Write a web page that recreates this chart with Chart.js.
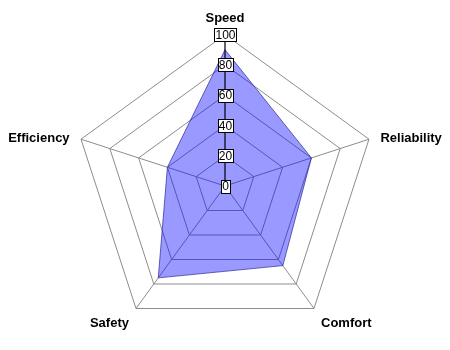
<!DOCTYPE html>
<html>
<head>
<meta charset="utf-8">
<script src="https://cdn.jsdelivr.net/npm/chart.js@4"></script>
<style>
    body { margin: 0; background: #ffffff; }
</style>
</head>
<body>
<canvas id="myChart" width="450" height="350"></canvas>
<script>
const categories = ["Speed", "Reliability", "Comfort", "Safety", "Efficiency"];
const values = [90, 60, 65, 75, 40];
const tickValues = [0, 20, 40, 60, 80, 100];

const labelFont = "bold 13px 'Liberation Sans', Arial, sans-serif";

// boxed tick labels along the first axis, drawn over the fill,
// and the category labels placed round the outer ring
const radarExtras = {
    id: "radarExtras",
    afterDatasetsDraw(chart) {
        const scale = chart.scales.r;
        const ctx = chart.ctx;
        const top = scale.getPointPositionForValue(0, tickValues[tickValues.length - 1]);
        ctx.save();
        ctx.strokeStyle = "black";
        ctx.lineWidth = 1;
        ctx.beginPath();
        ctx.moveTo(scale.xCenter, scale.yCenter);
        ctx.lineTo(top.x, top.y);
        ctx.stroke();

        ctx.font = "12px 'Liberation Sans', Arial, sans-serif";
        ctx.textAlign = "center";
        ctx.textBaseline = "middle";
        tickValues.forEach(v => {
            const p = scale.getPointPositionForValue(0, v);
            const w = Math.round(ctx.measureText(String(v)).width + 2);
            const h = 13;
            const x = Math.round(p.x - w / 2) + 0.5;
            const y = Math.round(p.y - h / 2) + 0.5;
            ctx.fillStyle = "white";
            ctx.fillRect(x, y, w, h);
            ctx.strokeRect(x, y, w, h);
            ctx.fillStyle = "black";
            ctx.fillText(String(v), p.x + 0.5, p.y + 1);
        });

        ctx.font = labelFont;
        ctx.fillStyle = "black";
        ctx.textBaseline = "middle";
        categories.forEach((name, i) => {
            const p = scale.getPointPosition(i, scale.drawingArea + 12);
            const dx = p.x - scale.xCenter;
            const dy = p.y - scale.yCenter;
            let yOff = 3;
            if (Math.abs(dx) < 1) {
                ctx.textAlign = "center";
                yOff = -4;
            } else {
                ctx.textAlign = dx > 0 ? "left" : "right";
                if (dy > 0) yOff = 5;
            }
            ctx.fillText(name, p.x, p.y + yOff);
        });
        ctx.restore();
    }
};

const ctx = document.getElementById("myChart");

const myChart = new Chart(ctx, {
    type: "radar",
    data: {
        labels: categories,
        datasets: [
            {
                label: "Series 1",
                data: values,
                backgroundColor: "rgba(0, 0, 255, 0.4)",
                borderColor: "rgba(40, 40, 150, 0.7)",
                borderWidth: 1,
                pointRadius: 0,
                fill: true,
            },
        ],
    },
    options: {
        responsive: false,
        animation: false,
        plugins: {
            legend: { display: false },
            tooltip: { enabled: false }
        },
        scales: {
            r: {
                min: 0,
                max: 100,
                ticks: {
                    stepSize: 20,
                    display: false
                },
                grid: {
                    color: "#8c8c8c",
                    lineWidth: 1
                },
                angleLines: {
                    color: "#8c8c8c",
                    lineWidth: 1
                },
                pointLabels: {
                    // kept for layout only, drawn by radarExtras
                    color: "rgba(0,0,0,0)",
                    padding: 8,
                    font: {
                        family: "'Liberation Sans', Arial, sans-serif",
                        size: 13,
                        weight: "bold"
                    }
                }
            }
        }
    },
    plugins: [radarExtras]
});
</script>
</body>
</html>
